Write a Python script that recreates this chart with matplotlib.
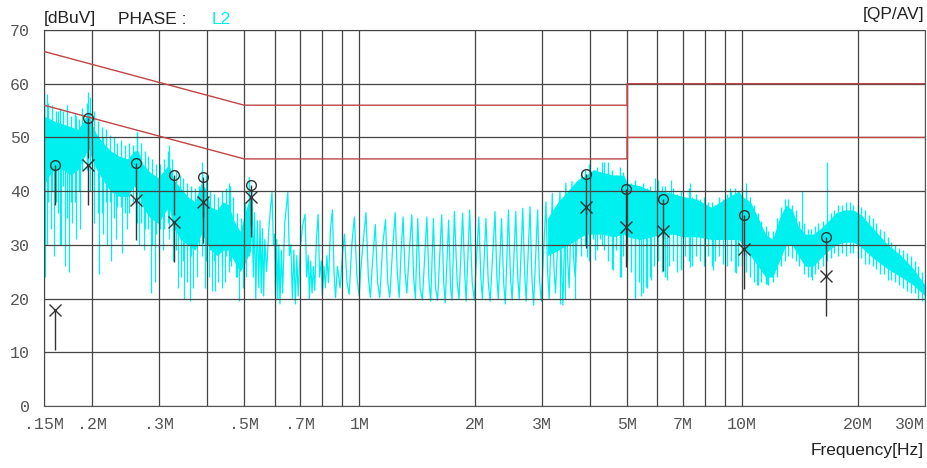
import numpy as np
import matplotlib.pyplot as plt

# ---- measured trace (MHz, dBuV), read off the receiver plot ----
# dense part below 0.52 MHz: solid core band
band_lf_f = [0.150, 0.155, 0.160, 0.168, 0.176, 0.184, 0.190, 0.196, 0.200, 0.206,
             0.214, 0.224, 0.236, 0.248, 0.258, 0.264, 0.272, 0.284, 0.298, 0.310,
             0.318, 0.328, 0.342, 0.356, 0.372, 0.386, 0.396, 0.410, 0.425, 0.440,
             0.455, 0.470, 0.488, 0.505, 0.520]
band_lf_hi = [54, 53.5, 53, 52.5, 52, 51.5, 53, 55, 52.5, 50.5,
              49, 47.5, 46.5, 46, 47.5, 47.5, 45, 43.5, 42.5, 44,
              45, 42, 40.5, 39, 38, 41.5, 40.5, 37, 36.5, 38,
              37.5, 34.5, 32.5, 36.5, 39.5]
band_lf_lo = [41, 43, 44, 44, 43, 44, 46, 48, 46, 44,
              42, 40, 39, 39, 41, 40, 37, 35, 34, 36,
              37, 33, 31, 30, 29, 32, 31, 29, 28, 29,
              29, 27, 25, 27, 29]

# ragged texture of the low band: vertical strokes (top, bottom)
lf_st_f = [0.150, 0.1535, 0.157, 0.161, 0.165, 0.168, 0.172, 0.176, 0.181, 0.185,
           0.189, 0.194, 0.198, 0.203, 0.208, 0.213, 0.218, 0.223, 0.228, 0.233,
           0.239, 0.244, 0.250, 0.256, 0.262, 0.268, 0.275, 0.281, 0.288, 0.294,
           0.301, 0.309, 0.316, 0.323, 0.331, 0.339, 0.346, 0.355, 0.363, 0.371,
           0.380, 0.389, 0.398, 0.408, 0.417, 0.427, 0.437, 0.447, 0.458, 0.468,
           0.479, 0.491, 0.502, 0.514]
lf_st_hi = [57, 56.5, 56, 55, 55.5, 55, 56, 54, 54.5, 53.5,
            55.5, 56.5, 57.5, 55, 53, 52, 51.5, 50.5, 50, 49,
            49.5, 48.5, 49, 48.5, 51, 49, 47.5, 46.5, 46, 45,
            45, 46, 47.5, 46, 44, 43, 42.5, 41.5, 41, 40.5,
            41, 44, 43, 40, 39.5, 39, 40, 40.5, 41, 39,
            36, 35, 38, 42]
lf_st_lo = [36, 38, 40, 38, 30, 41, 35, 38, 38, 40,
            44, 44, 40, 40, 36, 36, 38, 38, 35, 37,
            37, 36, 36, 38, 34, 34, 33, 33, 30, 32,
            33, 33, 34, 34, 29, 31, 27, 29, 28, 30,
            30, 30, 27, 29, 27, 28, 26, 28, 27, 28,
            24, 26, 28, 28]

# single deep spikes below 0.52 MHz
spk_f = [0.1502, 0.151, 0.153, 0.156, 0.159, 0.163, 0.166, 0.170, 0.174, 0.178,
         0.182, 0.186, 0.196, 0.203, 0.209, 0.214, 0.219, 0.225, 0.231, 0.240,
         0.247, 0.262, 0.266, 0.274, 0.286, 0.293, 0.300, 0.306, 0.318, 0.326,
         0.336, 0.342, 0.348, 0.355, 0.361, 0.368, 0.376, 0.389, 0.396, 0.404,
         0.413, 0.420, 0.428, 0.437, 0.446, 0.456, 0.463, 0.475, 0.485, 0.495,
         0.505]
spk_lo = [34, 24, 30, 33, 28, 36, 30, 26, 25, 34,
          31, 33, 44, 34, 24.5, 32, 30, 27, 31, 28.5,
          33, 35, 30, 29, 21, 23, 27, 29, 31, 27,
          22, 24, 20, 23, 19.5, 22, 24, 28, 22, 24,
          21.5, 21.5, 23, 22, 23, 25, 26, 24, 19.5, 22,
          24]
spk_hi = [58.5, 50, 58, 50, 52, 55, 50, 52, 48, 50,
          54, 50, 58.5, 50, 48, 50, 46, 45, 46, 45,
          44, 51, 44, 44, 42, 40, 42, 42, 48.5, 40,
          38, 38, 36, 37, 35, 36, 36, 45.5, 35, 36,
          35, 34, 34, 35, 35, 41.5, 35, 33, 30, 30,
          34]

# 0.52 .. 3.8 MHz: periodic ripple, peaks and troughs
osc_f = [0.515, 0.520, 0.524, 0.528, 0.532, 0.536, 0.541, 0.546, 0.550, 0.554,
         0.558, 0.562, 0.566, 0.572, 0.580, 0.586, 0.591, 0.596, 0.600, 0.604,
         0.608, 0.612, 0.616, 0.620, 0.625, 0.630, 0.638, 0.645, 0.650, 0.656,
         0.662, 0.668, 0.674, 0.680, 0.686, 0.692, 0.700, 0.710, 0.721, 0.728,
         0.735, 0.740, 0.746, 0.752, 0.758, 0.764, 0.772, 0.780, 0.787, 0.795,
         0.800, 0.808, 0.815, 0.822, 0.830, 0.840, 0.850, 0.858, 0.866, 0.876,
         0.890, 0.905, 0.914, 0.928, 0.940, 0.955, 0.970, 0.985, 0.998, 1.012,
         1.040, 1.055, 1.068, 1.082, 1.100, 1.115, 1.130, 1.150, 1.170, 1.185,
         1.200, 1.220, 1.240, 1.255, 1.270, 1.285, 1.300, 1.315, 1.330, 1.350,
         1.370, 1.385, 1.400, 1.420, 1.440, 1.460, 1.500, 1.520, 1.535, 1.560,
         1.580, 1.600, 1.640, 1.660, 1.675, 1.710, 1.730, 1.745, 1.770, 1.800,
         1.820, 1.860, 1.885, 1.900, 1.940, 1.970, 1.995, 2.050, 2.075, 2.095,
         2.140, 2.170, 2.195, 2.260, 2.285, 2.305, 2.350, 2.380, 2.405, 2.450,
         2.480, 2.505, 2.560, 2.590, 2.615, 2.670, 2.700, 2.725, 2.790, 2.820,
         2.850, 2.920, 2.950, 2.985, 3.070, 3.100, 3.130, 3.190, 3.220, 3.250,
         3.340, 3.370, 3.400, 3.460, 3.500, 3.530, 3.590, 3.620, 3.660, 3.770,
         3.800]
osc_db = [42.5, 30, 40, 24, 36, 20, 34.5, 22, 34.5, 21,
          33, 20.5, 31, 25, 33, 37, 39.8, 30, 32, 19.5,
          31, 20, 30, 19, 29, 21, 34, 37.5, 39.8, 28,
          30, 20, 29, 19, 28, 20.5, 29, 33.5, 35.7, 24,
          28, 20, 27, 21, 26, 21.5, 31, 35.7, 24, 27,
          20.5, 26, 22, 28, 23, 33, 36.5, 25, 20.2, 26,
          22, 29, 32, 23, 20.8, 30, 35.2, 24, 20.5, 27,
          36, 24, 20.2, 27, 33.8, 23, 20.2, 30, 34.7, 23,
          20.2, 29, 36, 25, 20.2, 29, 35.2, 25, 21, 29,
          35.6, 24, 20, 34.9, 22, 19.7, 35.2, 23, 19.5, 34.9,
          22, 19.7, 35.6, 23, 19.2, 34.6, 22, 19.7, 36.2, 23,
          20, 35.9, 24, 19.5, 36.5, 23, 19.7, 35.2, 24, 20,
          34.9, 23, 19.5, 36.2, 24, 20, 34.9, 23, 19, 36.5,
          24, 19.7, 36.2, 24, 20, 36.8, 25, 19.5, 37.1, 24,
          18.8, 36.5, 24, 19.5, 38.0, 25, 20, 39.6, 26, 21,
          39.9, 26, 18.8, 41.5, 27, 22, 41.8, 28, 24, 42.1,
          30]

# 3.1 .. 30 MHz: dense band core
band_hf_f = [3.10, 3.30, 3.50, 3.70, 3.90, 4.10, 4.30, 4.60, 4.90, 5.00,
             5.40, 5.80, 6.20, 6.60, 7.00, 7.60, 8.30, 9.00, 9.80, 10.0,
             10.5, 11.0, 11.5, 12.0, 12.5, 13.0, 13.5, 14.0, 14.6, 15.3,
             16.0, 16.8, 17.6, 18.5, 19.5, 20.5, 22.0, 24.0, 26.0, 28.0,
             30.0]
band_hf_hi = [35, 38, 40, 42, 43, 44, 43.5, 43, 43, 41.5,
              41, 40, 40, 39.5, 39, 38.5, 37, 38.5, 40, 39,
              38, 35, 32, 31, 35, 37.4, 36.5, 33.5, 32, 32,
              33, 34.5, 36, 36.5, 36.5, 35.5, 33, 30, 28, 25.5,
              22.5]
band_hf_lo = [28, 29, 30, 31, 32, 32, 32, 31.5, 32, 31.5,
              31, 31.5, 32, 32, 31.5, 31.5, 31, 31, 31, 30,
              28, 26, 24, 24, 27, 30, 30, 28, 26, 26,
              27.5, 29, 30, 30.5, 30.5, 29.5, 27.5, 25.5, 24, 22.5,
              20.5]

# ragged texture of the high band: vertical strokes (top, bottom)
hf_st_f = [3.80, 3.89, 3.98, 4.07, 4.17, 4.26, 4.36, 4.46, 4.57, 4.67,
           4.78, 4.89, 5.01, 5.12, 5.24, 5.37, 5.49, 5.62, 5.75, 5.88,
           6.02, 6.16, 6.30, 6.45, 6.60, 6.76, 6.91, 7.08, 7.24, 7.41,
           7.58, 7.76, 7.94, 8.13, 8.32, 8.51, 8.71, 8.91, 9.12, 9.33,
           9.55, 9.77, 10.0, 10.2, 10.5, 10.7, 11.0, 11.2, 11.5, 11.7,
           12.0, 12.3, 12.6, 12.9, 13.2, 13.5, 13.8, 14.1, 14.5, 14.8,
           15.1, 15.5, 15.8, 16.2, 16.6, 17.0, 17.4, 17.8, 18.2, 18.6,
           19.1, 19.5, 20.0, 20.4, 20.9, 21.4, 21.9, 22.4, 22.9, 23.4,
           24.0, 24.5, 25.1, 25.7, 26.3, 26.9, 27.5, 28.2, 28.8, 29.5,
           30.0]
hf_st_hi = [43.5, 44, 45, 44, 44.5, 43.5, 45.5, 44, 44, 43,
            44.5, 43.5, 42.5, 41.5, 42, 41, 41.5, 40.5, 41, 40,
            42, 41, 41, 40, 40.5, 39.5, 40, 39, 40.5, 39,
            39.5, 38.5, 39, 38, 38, 37.5, 39, 38.5, 39.5, 40,
            40.5, 40, 40.5, 40, 39, 37.5, 36, 34.5, 33.5, 32.5,
            32.5, 35, 37, 38.5, 38.5, 37.5, 36.5, 34.5, 34, 33,
            33, 33.5, 34, 34.5, 35, 36, 36.5, 37.5, 37.5, 38,
            38, 37.5, 37.5, 37, 36.5, 35.5, 35, 34, 33, 32.5,
            31.5, 30.5, 30, 29.5, 29, 28.5, 28, 27, 26, 25,
            23.5]
hf_st_lo = [28, 30, 27, 31, 29, 31, 29, 27, 25.5, 29,
            24, 28, 27, 25, 20.5, 23, 21, 22, 24, 26,
            27, 25, 24, 26, 27, 25, 25.5, 28, 27, 26,
            28, 27, 26, 28, 26, 27, 28, 26.5, 26, 27,
            25, 26, 26, 25, 24, 23, 22.5, 23, 22.8, 22.5,
            23, 24, 26, 27, 28, 27.5, 27, 26, 24.5, 24,
            24, 24.5, 25.5, 26, 27, 27.5, 28.5, 28, 28.5, 28,
            28.5, 28.5, 27.5, 27.5, 26.5, 26.5, 26, 25.5, 24.5, 24.5,
            23.5, 23.5, 23, 22.5, 22, 21.5, 21, 21, 20, 19.5,
            19]

hf_spk_f = [3.35, 3.45, 3.65, 3.92, 4.00, 4.12, 4.30, 4.45, 4.59, 4.83,
            5.23, 5.45, 5.61, 5.79, 5.90, 6.34, 6.50, 6.93, 7.28, 8.37,
            9.30, 9.64, 10.2, 10.9, 11.6, 14.3, 15.2, 16.6]
hf_spk_lo = [19, 20, 20, 27.8, 33, 27.2, 30, 33, 25.3, 24.1,
             20, 20.5, 22.2, 23.4, 32, 23.4, 32, 25.3, 25.9, 25.3,
             32, 24.7, 30, 22.5, 22.8, 28, 23.5, 30]
hf_spk_hi = [38, 40, 38, 36, 46, 36, 45.5, 45.5, 36, 36,
             33, 33, 33, 33, 42.5, 33, 42, 33, 41.5, 33,
             40.5, 33, 41.5, 30, 28, 40, 30, 45.5]

# limits (QP and AV)
lim_f = [0.15, 0.5, 5.0, 5.0, 30.0]
qp_lim = [66, 56, 56, 60, 60]
av_lim = [56, 46, 46, 50, 50]

# final measurements
mk_f = [0.160, 0.196, 0.261, 0.328, 0.390, 0.520, 3.90, 4.96, 6.20, 10.1, 16.5]
mk_qp = [44.9, 53.6, 45.3, 43.0, 42.7, 41.1, 43.2, 40.4, 38.5, 35.6, 31.5]
mk_av = [17.9, 44.9, 38.4, 34.3, 37.9, 38.9, 37.0, 33.3, 32.6, 29.2, 24.2]

xtick_f = [0.15, 0.2, 0.3, 0.5, 0.7, 1, 2, 3, 5, 7, 10, 20, 30]
xtick_lbl = ['.15M', '.2M', '.3M', '.5M', '.7M', '1M', '2M', '3M', '5M', '7M', '10M', '20M', '30M']
grid_f = [0.4, 0.6, 0.8, 0.9, 4, 6, 8, 9]

cyan = '#00f0f0'
red = '#c04545'
ink = '#333333'
stem = 7.5

fig = plt.figure(figsize=(9.28, 4.68), dpi=100)
ax = fig.add_axes([44 / 928, 62 / 468, 881 / 928, 376 / 468])
ax.set_xscale('log')
ax.set_xlim(0.15, 30)
ax.set_ylim(0, 70)

# trace
ax.fill_between(band_lf_f, band_lf_lo, band_lf_hi, color=cyan, lw=0, zorder=1)
ax.fill_between(band_hf_f, band_hf_lo, band_hf_hi, color=cyan, lw=0, zorder=1)
ax.vlines(lf_st_f, lf_st_lo, lf_st_hi, color=cyan, lw=1.0, zorder=1)
ax.vlines(hf_st_f, hf_st_lo, hf_st_hi, color=cyan, lw=1.0, zorder=1)
ax.vlines(spk_f, spk_lo, spk_hi, color=cyan, lw=0.9, zorder=1)
ax.vlines(hf_spk_f, hf_spk_lo, hf_spk_hi, color=cyan, lw=0.9, zorder=1)
ax.plot(osc_f, osc_db, color=cyan, lw=0.9, zorder=1)

# grid above the trace
ax.set_xticks(xtick_f)
ax.set_xticklabels(xtick_lbl)
ax.set_xticks(grid_f, minor=True)
ax.set_yticks(np.arange(0, 71, 10))
ax.set_axisbelow(False)
ax.grid(True, which='both', color='#444444', lw=0.9)
ax.tick_params(which='both', length=0)
ax.tick_params(axis='x', pad=8)
ax.tick_params(axis='y', pad=10)
for lbl in ax.get_xticklabels() + ax.get_yticklabels():
    lbl.set_fontfamily('Liberation Mono')
    lbl.set_fontsize(12)
    lbl.set_color('#555555')
ax.get_xticklabels()[-1].set_ha('right')
for sp in ax.spines.values():
    sp.set_color('#555555')

# limit lines
ax.plot(lim_f, qp_lim, color=red, lw=1, zorder=3)
ax.plot(lim_f, av_lim, color=red, lw=1, zorder=3)
ax.vlines(lim_f[2], av_lim[2], qp_lim[3], color=red, lw=1, zorder=3)

# markers with their stems
qp_arr = np.array(mk_qp)
av_arr = np.array(mk_av)
ax.vlines(mk_f, qp_arr - stem, qp_arr, color=ink, lw=1, zorder=4)
ax.vlines(mk_f, av_arr - stem, av_arr, color=ink, lw=1, zorder=4)
ax.plot(mk_f, mk_qp, 'o', ms=7, mfc='none', mec=ink, mew=1, zorder=5)
ax.plot(mk_f, mk_av, 'x', ms=8, mec=ink, mew=1, zorder=5)

# header / footer texts
hdr = dict(family='Liberation Sans', fontsize=12.5, va='center')
fig.text(44 / 928, 1 - 19 / 468, '[dBuV]', color='#222222', **hdr)
fig.text(118 / 928, 1 - 19 / 468, 'PHASE :', color='#222222', **hdr)
fig.text(212 / 928, 1 - 19 / 468, 'L2', color=cyan, **hdr)
fig.text(924 / 928, 1 - 15 / 468, '[QP/AV]', color='#222222', ha='right', **hdr)
fig.text(924 / 928, 1 - 451 / 468, 'Frequency[Hz]', color='#222222', ha='right', **hdr)

fig.savefig('out.png', dpi=100, facecolor='white')
